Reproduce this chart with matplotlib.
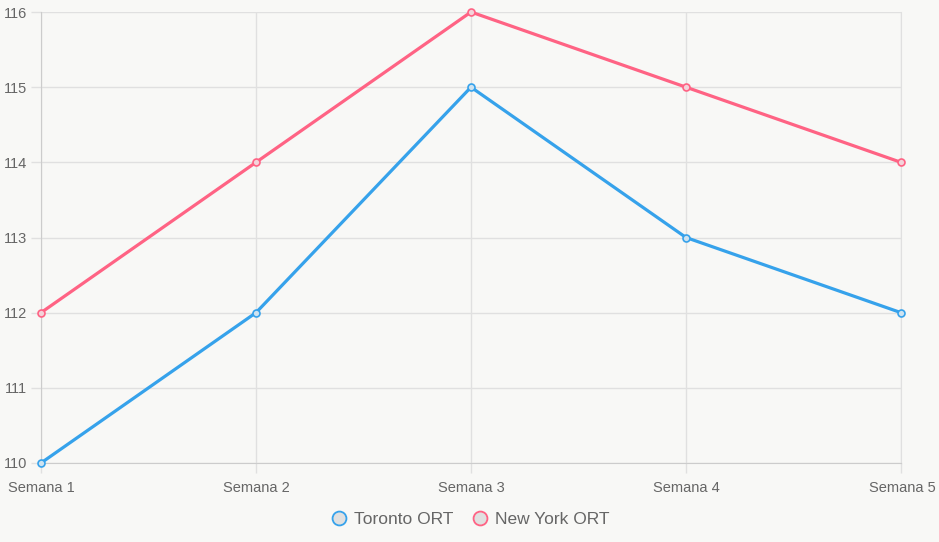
import matplotlib.pyplot as plt
from matplotlib.lines import Line2D
from matplotlib.transforms import ScaledTranslation

weeks = ['Semana 1', 'Semana 2', 'Semana 3', 'Semana 4', 'Semana 5']
toronto = [110, 112, 115, 113, 112]
new_york = [112, 114, 116, 115, 114]

blue = '#36a2eb'
pink = '#ff6384'
bg = '#f8f8f6'

plt.rcParams['font.family'] = ['Liberation Sans', 'DejaVu Sans']

fig = plt.figure(figsize=(9.39, 5.42), dpi=100, facecolor=bg)
ax = fig.add_axes([41/939, 1 - 463/542, 860/939, 451/542])
ax.set_facecolor(bg)

x = range(len(weeks))
ax.plot(x, toronto, color=blue, lw=2.3, marker='o', ms=5,
        mfc='#cfe3f0', mec=blue, mew=1.2, label='Toronto ORT', zorder=3, clip_on=False)
ax.plot(x, new_york, color=pink, lw=2.3, marker='o', ms=5,
        mfc='#f3d3da', mec=pink, mew=1.2, label='New York ORT', zorder=3, clip_on=False)

ax.set_xlim(0, len(weeks) - 1)
ax.set_ylim(110, 116)
ax.set_xticks(list(x))
ax.set_xticklabels(weeks)
ax.set_yticks(range(110, 117))

ax.grid(True, color='#e0e0e0', lw=1)
ax.set_axisbelow(True)
ax.spines['top'].set_visible(False)
ax.spines['right'].set_color('#e0e0e0')
for s in ['left', 'bottom']:
    ax.spines[s].set_color('#cccccc')
ax.tick_params(colors='#666666', labelsize=10.5, length=7, width=1)
ax.tick_params(axis='both', color='#e0e0e0')
ax.tick_params(axis='x', pad=6)
ax.tick_params(axis='y', pad=3)
labels = ax.get_xticklabels()
labels[0].set_ha('left')
labels[-1].set_ha('right')
labels[0].set_transform(labels[0].get_transform() + ScaledTranslation(-33/100, 0, fig.dpi_scale_trans))
labels[-1].set_transform(labels[-1].get_transform() + ScaledTranslation(35/100, 0, fig.dpi_scale_trans))

handles = [
    Line2D([], [], ls='none', marker='o', ms=10, mfc='#e0e0e0', mec=blue, mew=1.3),
    Line2D([], [], ls='none', marker='o', ms=10, mfc='#e0e0e0', mec=pink, mew=1.3),
]
fig.legend(handles, ['Toronto ORT', 'New York ORT'], loc='center',
           bbox_to_anchor=(470/939, 1 - 519/542), ncol=2, frameon=False,
           fontsize=12.5, labelcolor='#666666', handletextpad=0.4,
           columnspacing=1.0, handlelength=1.0)

fig.savefig('out.png', dpi=100, facecolor=bg)
